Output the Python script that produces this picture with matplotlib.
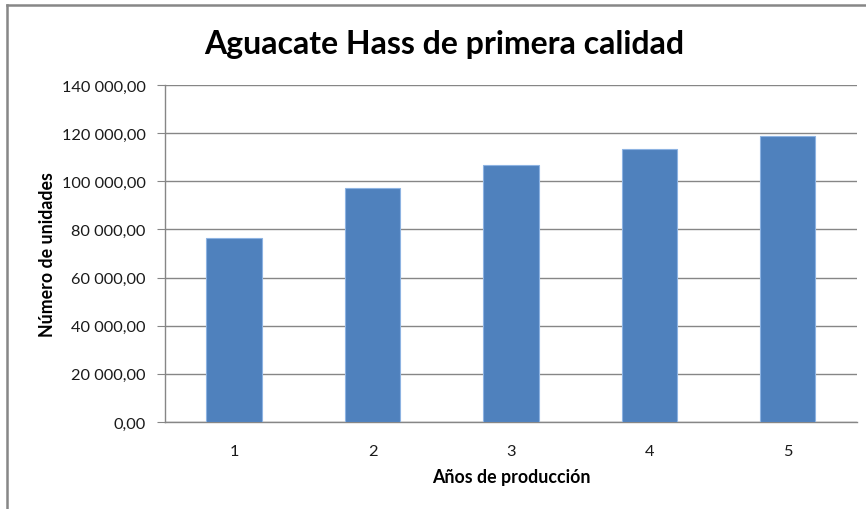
import matplotlib.pyplot as plt
from matplotlib.lines import Line2D
from matplotlib.ticker import FuncFormatter, MultipleLocator

plt.rcParams['font.family'] = ['Lato', 'DejaVu Sans']

# datos de producción por año
anios = ['1', '2', '3', '4', '5']
unidades = [76500, 97080, 106920, 113330, 118750]


def formato_es(v, pos):
    # 120 000,00 -> separador de miles con espacio, decimales con coma
    s = f'{v:,.2f}'
    return s.replace(',', ' ').replace('.', ',')


fig = plt.figure(figsize=(8.66, 5.10), dpi=100)
ax = fig.add_axes([0.1905, 0.1706, 0.7990, 0.6608])

x = range(len(anios))
ax.bar(x, unidades, width=0.4, color='#4F81BD', edgecolor='#8DB3E2',
       linewidth=0.8, zorder=3)

ax.set_xlim(-0.5, len(anios) - 0.5)
ax.set_ylim(0, 140000)
ax.yaxis.set_major_locator(MultipleLocator(20000))
ax.yaxis.set_major_formatter(FuncFormatter(formato_es))
ax.set_xticks(list(x))
ax.set_xticklabels(anios)

ax.grid(axis='y', color='#868686', linewidth=1.0, zorder=0)
for lado in ['top', 'right']:
    ax.spines[lado].set_visible(False)
for lado in ['left', 'bottom']:
    ax.spines[lado].set_color('#868686')
    ax.spines[lado].set_linewidth(1.0)

ax.tick_params(axis='y', length=6, color='#868686', labelsize=11.8,
               labelcolor='#1a1a1a', pad=8)
ax.tick_params(axis='x', length=0, labelsize=11.8, labelcolor='#1a1a1a', pad=16)

ax.set_ylabel('Número de unidades', fontsize=12.8, fontweight='bold', labelpad=4)
ax.set_xlabel('Años de producción', fontsize=12.8, fontweight='bold', labelpad=7)

fig.text(0.513, 0.913, 'Aguacate Hass de primera calidad', ha='center',
         va='center', fontsize=23, fontweight='bold')

# marco del gráfico
fig.add_artist(Line2D([0.0083, 0.0083], [0.0, 0.989], color='#878787',
                      linewidth=1.8, transform=fig.transFigure))
fig.add_artist(Line2D([0.0083, 1.0], [0.989, 0.989], color='#878787',
                      linewidth=1.8, transform=fig.transFigure))

fig.savefig('out.png', dpi=100, facecolor='white')
